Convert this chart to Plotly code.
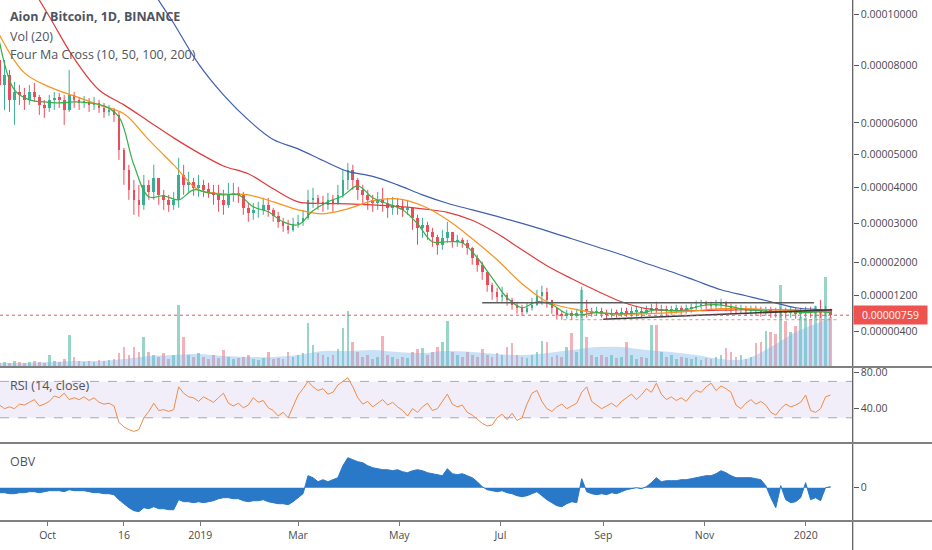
import numpy as np
import pandas as pd
import plotly.graph_objects as go

#%% data: prices in satoshi (1e-8 BTC), one candle per 3 days
candle_start = "2018-09-02"
opens = [8218, 7300, 7660, 6776, 7055, 6950, 6780, 7055, 6880, 6600,
         6500, 6780, 6845, 6780, 6433, 6950, 6780, 6673, 6710, 6600,
         6670, 6500, 6366, 6433, 6265, 5133, 4522, 3935, 3651, 3512,
         4080, 3878, 4285, 3793, 3651, 3512, 3651, 4374, 4080, 4168,
         3993, 4080, 3935, 3878, 3793, 3651, 3512, 3793, 3850, 3793,
         3428, 3290, 3372, 3372, 3512, 3372, 3209, 3046, 2939, 2832,
         2993, 3046, 3154, 3651, 3708, 3567, 3512, 3651, 3567, 3793,
         4226, 4522, 4226, 3935, 3793, 3651, 3567, 3651, 3567, 3428,
         3512, 3456, 3372, 3428, 3154, 2886, 2966, 2780, 2649, 2443,
         2623, 2780, 2520, 2571, 2494, 2366, 2114, 1940, 1769, 1458,
         1294, 1178, 1224, 1108, 995, 927, 838, 927, 995, 1201,
         1294, 1108, 927, 771, 749, 793, 749, 815, 882, 838,
         815, 860, 793, 771, 815, 793, 838, 815, 838, 860,
         815, 882, 905, 870, 882, 860, 882, 905, 882, 905,
         927, 972, 1018, 995, 972, 995, 1040, 972, 905, 882,
         905, 860, 882, 860, 838, 860, 838, 815, 838, 815,
         838, 793, 815, 838, 815, 838, 815, 882]
highs = [8597, 8218, 7846, 7411, 7303, 7196, 7303, 7375, 6950, 6776,
         6950, 7055, 7020, 6950, 7846, 7055, 6880, 6915, 6845, 6880,
         6776, 6673, 6605, 6500, 6366, 5196, 4673, 4226, 4080, 4374,
         4226, 4673, 4080, 3935, 3793, 3878, 4886, 4673, 4463, 4285,
         4374, 4226, 4139, 4080, 4080, 3935, 4139, 4139, 4022, 3878,
         3567, 3567, 3595, 3708, 3708, 3428, 3318, 3154, 3100, 3154,
         3236, 3372, 3935, 3993, 3793, 3765, 3850, 3793, 4080, 4522,
         4733, 4673, 4285, 4080, 3935, 3793, 3878, 3993, 3708, 3736,
         3708, 3651, 3651, 3455, 3236, 3154, 3046, 2886, 2702, 2832,
         3046, 2676, 2702, 2623, 2571, 2391, 2189, 2014, 1769, 1505,
         1386, 1410, 1270, 1154, 1063, 995, 1040, 1154, 1340, 1434,
         1386, 1108, 927, 860, 882, 860, 905, 1410, 1108, 927,
         950, 927, 882, 905, 882, 927, 927, 950, 972, 927,
         972, 1018, 1063, 995, 972, 972, 995, 972, 995, 1018,
         1085, 1108, 1085, 1063, 1108, 1131, 1085, 1018, 995, 995,
         972, 972, 972, 950, 950, 950, 927, 950, 927, 950,
         927, 927, 950, 950, 972, 1108, 972, 905]
lows = [6950, 6433, 6366, 5934, 6605, 6433, 6605, 6707, 6265, 6165,
        6366, 6433, 6502, 5934, 6366, 6502, 6433, 6502, 6366, 6433,
        6332, 6165, 6232, 6032, 4824, 4080, 3651, 3236, 3182, 3372,
        3651, 3651, 3512, 3372, 3318, 3372, 3428, 3793, 3878, 3765,
        3736, 3736, 3708, 3512, 3318, 3236, 3428, 3595, 3567, 3236,
        3046, 3100, 3154, 3236, 3182, 3046, 2886, 2780, 2728, 2780,
        2886, 2939, 3100, 3428, 3372, 3318, 3372, 3318, 3512, 3708,
        3935, 3935, 3651, 3512, 3372, 3318, 3372, 3318, 3154, 3236,
        3236, 3182, 3236, 2832, 2443, 2623, 2571, 2391, 2189, 2314,
        2494, 2366, 2391, 2366, 2189, 1940, 1769, 1576, 1294, 1108,
        1040, 1063, 972, 882, 793, 749, 793, 860, 972, 995,
        927, 793, 660, 660, 682, 660, 704, 704, 704, 727,
        749, 704, 660, 704, 704, 727, 727, 727, 727, 704,
        771, 793, 815, 771, 749, 771, 793, 771, 793, 815,
        860, 882, 882, 860, 882, 905, 860, 793, 771, 793,
        749, 771, 749, 727, 749, 704, 704, 704, 682, 704,
        682, 682, 704, 704, 704, 704, 727, 704]
closes = [7300, 7660, 6776, 7055, 6950, 6780, 7055, 6880, 6600, 6500,
          6780, 6845, 6780, 6433, 6950, 6780, 6673, 6710, 6600, 6670,
          6500, 6366, 6433, 6265, 5133, 4522, 3935, 3651, 3512, 4080,
          3878, 4285, 3793, 3651, 3512, 3651, 4374, 4080, 4168, 3993,
          4080, 3935, 3878, 3793, 3651, 3512, 3793, 3850, 3793, 3428,
          3290, 3372, 3372, 3512, 3372, 3209, 3046, 2939, 2832, 2993,
          3046, 3154, 3651, 3708, 3567, 3512, 3651, 3567, 3793, 4226,
          4522, 4226, 3935, 3793, 3651, 3567, 3651, 3567, 3428, 3512,
          3456, 3372, 3428, 3154, 2886, 2966, 2780, 2649, 2443, 2623,
          2780, 2520, 2571, 2494, 2366, 2114, 1940, 1769, 1458, 1294,
          1178, 1224, 1108, 995, 927, 838, 927, 995, 1201, 1294,
          1108, 927, 771, 749, 793, 749, 815, 882, 838, 815,
          860, 793, 771, 815, 793, 838, 815, 838, 860, 815,
          882, 905, 870, 882, 860, 882, 905, 882, 905, 927,
          972, 1018, 995, 972, 995, 1040, 972, 905, 882, 905,
          860, 882, 860, 838, 860, 838, 815, 838, 815, 838,
          793, 815, 838, 815, 838, 815, 882, 759]
volumes = [4, 5, 4, 6, 5, 4, 5, 6, 5, 4,
           12, 6, 5, 8, 32, 10, 6, 5, 6, 5,
           7, 6, 7, 8, 14, 20, 12, 20, 15, 30,
           15, 12, 10, 14, 8, 12, 62, 30, 12, 10,
           14, 10, 8, 12, 9, 17, 10, 8, 9, 10,
           12, 8, 7, 9, 15, 8, 9, 8, 15, 10,
           12, 14, 44, 22, 14, 12, 10, 12, 18, 39,
           56, 25, 15, 10, 12, 8, 10, 31, 12, 10,
           8, 10, 9, 15, 18, 19, 12, 15, 20, 25,
           46, 15, 12, 10, 15, 12, 10, 18, 12, 10,
           14, 12, 20, 24, 12, 10, 9, 12, 15, 26,
           25, 10, 12, 10, 20, 34, 15, 77, 30, 12,
           10, 12, 10, 12, 9, 10, 25, 12, 8, 10,
           9, 42, 42, 15, 10, 12, 8, 10, 9, 8,
           10, 7, 9, 8, 10, 12, 19, 15, 10, 12,
           8, 10, 24, 25, 36, 35, 33, 82, 46, 35,
           41, 50, 49, 48, 61, 55, 90, 50]
rsi = [44, 40, 42, 40, 45, 44, 47, 50, 43, 45,
       48, 54, 52, 57, 50, 52, 50, 53, 49, 52,
       47, 45, 46, 43, 25, 20, 17, 15, 17, 30,
       37, 46, 38, 39, 37, 39, 64, 57, 53, 52,
       48, 53, 50, 47, 52, 57, 46, 43, 46, 41,
       44, 52, 47, 49, 41, 38, 32, 36, 30, 42,
       55, 62, 70, 64, 60, 62, 56, 58, 66, 70,
       74, 64, 52, 45, 48, 42, 46, 50, 44, 47,
       42, 38, 32, 40, 36, 42, 46, 38, 40, 48,
       56, 45, 42, 44, 36, 33, 28, 24, 21, 22,
       30, 34, 28, 35, 27, 30, 45, 57, 60, 48,
       40, 37, 42, 45, 40, 43, 46, 58, 64, 48,
       44, 40, 43, 46, 42, 48, 52, 56, 50, 55,
       62, 58, 68, 56, 50, 53, 49, 52, 48, 55,
       60, 58, 64, 68, 60, 65, 62, 58, 44, 40,
       46, 50, 45, 48, 44, 36, 33, 40, 45, 42,
       44, 47, 55, 38, 36, 40, 53, 55]
obv = [-5, -5, -6, -6, -5, -5, -4, -4, -5, -4,
       -3, -3, -3, -4, -2, -3, -3, -3, -4, -5,
       -5, -6, -6, -7, -12, -16, -20, -23, -24, -20,
       -21, -19, -21, -21, -22, -22, -12, -14, -14, -15,
       -14, -15, -14, -13, -11, -10, -10, -11, -11, -13,
       -14, -13, -13, -12, -14, -15, -16, -16, -17, -14,
       -10, -6, 12, 10, 6, 8, 6, 8, 10, 22,
       30, 28, 26, 25, 22, 20, 19, 18, 18, 17,
       18, 16, 15, 17, 18, 17, 15, 14, 13, 12,
       19, 14, 13, 14, 12, 10, 6, 1, -2, -3,
       -4, -3, -5, -6, -8, -9, -8, -6, -4, -8,
       -12, -15, -18, -19, -16, -14, -15, 9, -4, -6,
       -7, -6, -7, -5, -6, -4, -2, -1, 0, -1,
       1, 5, 10, 6, 7, 7, 7, 8, 8, 9,
       10, 11, 12, 12, 14, 17, 15, 12, 10, 10,
       10, 10, 9, 8, 2, -10, -20, 2, -12, -15,
       -14, -10, 5, -12, -10, -13, 0, 1]

# moving averages, read every 9 days (MA10) and every 15 days (the rest)
ma10 = [8907, 7125, 6776, 6707, 6673, 6707, 6673, 6570, 6199, 4673,
        3736, 3765, 3651, 3935, 3850, 3793, 3793, 3456, 3318, 3046,
        2966, 3345, 3595, 3765, 4051, 3708, 3540, 3372, 2993, 2520,
        2520, 2494, 2114, 1623, 1154, 927, 1063, 995, 793, 771,
        815, 793, 793, 815, 882, 860, 882, 972, 995, 950,
        882, 860, 838, 838, 815, 838, 815]
ma50 = [9181, 7737, 7232, 6915, 6605, 6300, 5448, 4673, 3935, 3822,
        3793, 3595, 3372, 3263, 3400, 3623, 3680, 3484, 3100, 2597,
        2063, 1482, 1063, 905, 815, 782, 793, 815, 860, 905,
        905, 882, 860, 838, 838]
ma100 = [13625, 11693, 9928, 8275, 7125, 6605, 6049, 5512, 5040, 4640,
         4404, 3964, 3595, 3553, 3540, 3512, 3470, 3400, 3304, 3087,
         2735, 2314, 1915, 1600, 1317, 1063, 905, 860, 860, 871,
         882, 882, 871, 860, 860]
ma200 = [26000, 23500, 21000, 18500, 16024, 13723, 11300, 9650, 8069, 6950,
         6098, 5460, 5165, 4803, 4478, 4330, 4080, 3793, 3556, 3372,
         3192, 3003, 2806, 2597, 2391, 2189, 1972, 1769, 1552, 1340,
         1200, 1063, 927, 882, 871]
vol_ma = [4, 4, 5, 6, 6, 8, 11, 12, 13, 11,
          10, 10, 12, 16, 16, 17, 15, 14, 16, 15,
          13, 12, 14, 17, 20, 20, 17, 15, 12, 8,
          8, 20, 35, 45, 50]

# lines drawn by hand on the chart
resist_dates = ["2019-06-20", "2020-01-06"]
resist_level = [1040, 1040]
trend_dates = ["2019-09-01", "2020-01-17"]
trend_level = [671, 882]
floor_dates = ["2019-08-08", "2020-01-20"]
floor_level = [660, 660]

price_ticks = [10000, 8000, 6000, 5000, 4000, 3000, 2000, 1200, 400]
x_tick_dates = ["2018-10-01", "2018-11-16", "2019-01-01", "2019-03-01", "2019-05-01",
                "2019-07-01", "2019-09-01", "2019-11-01", "2020-01-01"]
x_tick_text = ["Oct", "16", "2019", "Mar", "May", "Jul", "Sep", "Nov", "2020"]

#%% helpers
dates = pd.date_range(candle_start, periods=len(closes), freq="3D")
slow_dates = [dates[k] for k in range(0, len(closes), 5)] + [dates[-1]]
fast_dates = [dates[k] for k in range(0, len(closes), 3)] + [dates[-1]]

# TradingView's price scale on this chart is squeezed at the top: log10(price + 1e-4 BTC) fits it
def scale(p):
    return np.log10(np.asarray(p, dtype=float) + 10000)

DAY = 86400000
UP, DOWN = '#3cae92', '#eb4d5c'
FONT = 'Open Sans'
TXT = '#50535e'
dom_r = 852.7 / 932
p_dom = [1 - 367 / 550, 1]
r_dom = [1 - 443 / 550, 1 - 367 / 550]
o_dom = [1 - 521 / 550, 1 - 443 / 550]

is_up = [c >= o for o, c in zip(opens, closes)]

fig = go.Figure()

# volume pane (behind the price)
fig.add_trace(go.Scatter(x=slow_dates, y=vol_ma, mode='lines', line=dict(width=0, shape='spline'),
                         fill='tozeroy', fillcolor='rgba(120,180,232,0.40)', yaxis='y', hoverinfo='skip'))
fig.add_trace(go.Bar(x=dates, y=volumes, width=1.6 * DAY, yaxis='y',
                     marker=dict(color=['rgba(83,185,160,0.6)' if u else 'rgba(235,100,112,0.5)' for u in is_up],
                                 line=dict(width=0))))

# candles: wicks as line segments, bodies as floating bars
for flag, col in [(True, UP), (False, DOWN)]:
    wx, wy = [], []
    bx, bbase, bh = [], [], []
    for d, o, h, l, c, u in zip(dates, opens, highs, lows, closes, is_up):
        if u != flag:
            continue
        wx += [d, d, None]
        wy += [float(scale(l)), float(scale(h)), None]
        bx.append(d)
        bbase.append(float(scale(o)))
        bh.append(float(scale(c) - scale(o)))
    fig.add_trace(go.Scatter(x=wx, y=wy, mode='lines', line=dict(color=col, width=1), yaxis='y2'))
    fig.add_trace(go.Bar(x=bx, y=bh, base=bbase, width=1.6 * DAY, yaxis='y2',
                         marker=dict(color=col, line=dict(width=0))))

# four MA cross
for xs, ys, col in [(slow_dates, ma200, '#3d5fb0'), (slow_dates, ma100, '#e03b3b'),
                    (slow_dates, ma50, '#f7931e'), (fast_dates, ma10, '#36b04a')]:
    fig.add_trace(go.Scatter(x=xs, y=scale(ys), mode='lines', line=dict(color=col, width=1.2, shape='spline'),
                             yaxis='y2'))

# drawings
fig.add_trace(go.Scatter(x=resist_dates, y=scale(resist_level), mode='lines',
                         line=dict(color='#5d5d5d', width=1.6), yaxis='y2'))
fig.add_trace(go.Scatter(x=trend_dates, y=scale(trend_level), mode='lines',
                         line=dict(color='#3a3a3a', width=1.6), yaxis='y2'))
fig.add_trace(go.Scatter(x=floor_dates, y=scale(floor_level), mode='lines',
                         line=dict(color='rgba(239,83,80,0.55)', width=1.2, dash='dot'), yaxis='y2'))

# RSI and OBV panes
fig.add_trace(go.Scatter(x=dates, y=rsi, mode='lines', line=dict(color='#f08a45', width=1), yaxis='y3'))
fig.add_trace(go.Scatter(x=dates, y=obv, mode='lines', line=dict(color='#2a78c8', width=1),
                         fill='tozeroy', fillcolor='#2a78c8', yaxis='y4'))

tickfont = dict(family=FONT, size=10.5, color='#4a4a4a')
axis_common = dict(side='right', showgrid=False, zeroline=False, ticks='outside', ticklen=5,
                   tickcolor='#555', tickfont=tickfont, anchor='x', automargin=False,
                   showline=False, fixedrange=True)

fig.update_layout(
    width=932, height=550,
    margin=dict(l=0, r=0, t=0, b=0),
    paper_bgcolor='white', plot_bgcolor='white',
    showlegend=False, barmode='overlay', bargap=0,
    xaxis=dict(domain=[0, dom_r], range=["2018-09-02 07:00", "2020-01-29 09:00"], anchor='y4',
               tickvals=x_tick_dates, ticktext=x_tick_text, ticks='outside', ticklen=4,
               tickcolor='#777', tickfont=tickfont, showgrid=False, zeroline=False,
               showline=False, automargin=False, fixedrange=True),
    yaxis=dict(domain=p_dom, range=[0, 367], visible=False, fixedrange=True),
    yaxis2=dict(overlaying='y', range=[3.98540, 4.31420],
                tickvals=scale(price_ticks), ticktext=[f"{t / 1e8:.8f}" for t in price_ticks],
                **axis_common),
    yaxis3=dict(domain=r_dom, range=[2.3, 85.8], tickvals=[40, 80], ticktext=["40.00", "80.00"],
                **axis_common),
    yaxis4=dict(domain=o_dom, range=[-33.3, 44.7], tickvals=[0], ticktext=["0"], **axis_common),
)

# RSI band, price line, pane borders
shapes = [
    dict(type='rect', xref='paper', yref='y3', x0=0, x1=dom_r, y0=30, y1=70,
         fillcolor='rgba(149,117,205,0.12)', line=dict(width=0), layer='below'),
    dict(type='line', xref='paper', yref='y3', x0=0, x1=dom_r, y0=70, y1=70,
         line=dict(color='#a9a2c4', width=1, dash='dash')),
    dict(type='line', xref='paper', yref='y3', x0=0, x1=dom_r, y0=30, y1=30,
         line=dict(color='#a9a2c4', width=1, dash='dash')),
    dict(type='line', xref='paper', yref='y2', x0=0, x1=dom_r,
         y0=float(scale(closes[-1])), y1=float(scale(closes[-1])),
         line=dict(color='#ef5350', width=1, dash='dot')),
    dict(type='line', xref='paper', yref='paper', x0=dom_r, x1=dom_r, y0=0, y1=1,
         line=dict(color='#555', width=1.2)),
]
for yp in [p_dom[0], r_dom[0], o_dom[0]]:
    shapes.append(dict(type='line', xref='paper', yref='paper', x0=0, x1=1, y0=yp, y1=yp,
                       line=dict(color='#808080', width=2)))
fig.update_layout(shapes=shapes)

labels = [("<b>Aion / Bitcoin, 1D, BINANCE</b>", 17, 12.5), ("Vol (20)", 36.7, 12.5),
          ("Four Ma Cross (10, 50, 100, 200)", 54.5, 12.5), ("RSI (14, close)", 385, 12.5),
          ("OBV", 461.5, 12.5)]
for txt, ypx, fs in labels:
    fig.add_annotation(text=txt, xref='paper', yref='paper', x=8 / 932, y=1 - ypx / 550,
                       xanchor='left', yanchor='middle', showarrow=False,
                       font=dict(family=FONT, size=fs, color=TXT))

fig.add_annotation(text=f"{closes[-1] / 1e8:.8f}", xref='paper', yref='y2', x=853 / 932,
                   y=float(scale(closes[-1])), xanchor='left', yanchor='middle', showarrow=False,
                   bgcolor='#ef5350', borderpad=2, width=69,
                   font=dict(family=FONT, size=10.5, color='white'))

# the page body has a default 8px margin; drop it so the chart sits at the window corner
fig.write_html("out.html", config={'displayModeBar': False},
               post_script="document.body.style.margin='0';")
